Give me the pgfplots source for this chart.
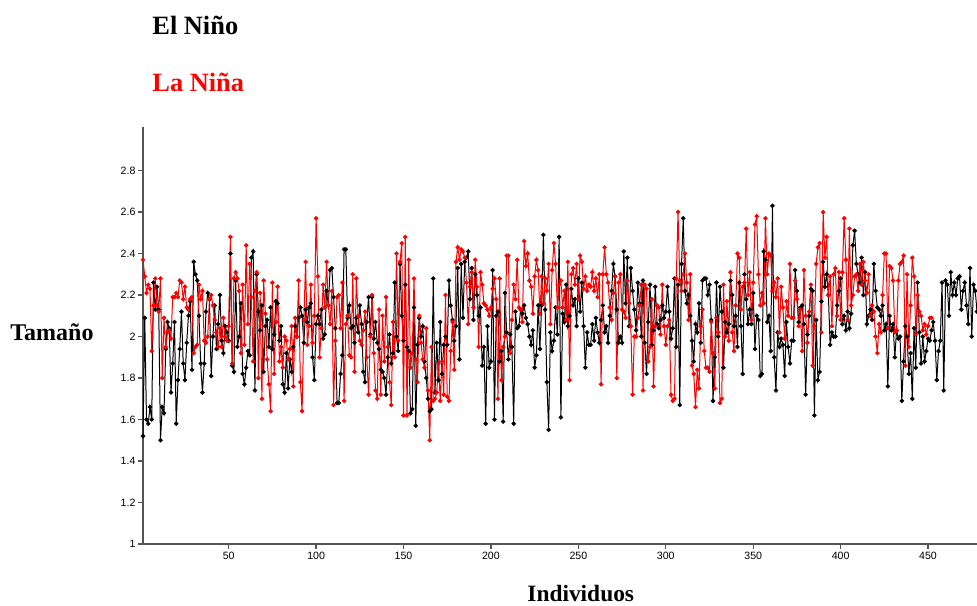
\documentclass[border=0pt]{standalone}
\usepackage{fontspec}
\setmainfont{Liberation Serif}
\newfontfamily\tickfont{Liberation Sans}
\usepackage{pgfplots}
\usepackage{pgfplotstable}
\pgfplotsset{compat=1.18}
\definecolor{axgray}{RGB}{85,85,85}

\pgfplotstableread[row sep=\\]{
y\\
1.52\\2.09\\1.60\\1.58\\1.66\\1.60\\2.26\\2.13\\2.24\\2.13\\1.50\\1.66\\1.63\\1.94\\2.07\\2.04\\1.73\\1.87\\2.07\\1.58\\1.79\\1.94\\2.12\\1.87\\1.79\\1.97\\2.10\\2.17\\1.84\\2.36\\2.30\\2.27\\2.10\\1.87\\1.73\\1.87\\2.12\\2.21\\2.18\\1.81\\2.00\\2.15\\1.94\\2.06\\2.20\\1.98\\1.92\\2.05\\2.02\\1.98\\
2.40\\1.86\\1.83\\2.27\\1.95\\2.00\\2.16\\1.82\\1.77\\1.85\\1.93\\1.91\\2.38\\2.41\\1.74\\2.30\\2.12\\2.03\\2.15\\1.83\\2.05\\2.08\\1.95\\2.14\\1.94\\2.01\\2.17\\2.16\\1.98\\2.05\\1.77\\1.73\\1.92\\1.75\\1.89\\1.83\\1.95\\2.05\\2.00\\2.09\\2.14\\2.10\\1.97\\2.13\\2.07\\2.14\\2.16\\1.90\\1.79\\2.06\\
2.10\\2.06\\2.13\\1.99\\2.01\\2.22\\2.15\\2.32\\2.33\\2.19\\2.04\\1.68\\1.68\\1.82\\1.91\\2.42\\2.42\\2.09\\2.15\\2.04\\2.05\\1.97\\2.09\\2.02\\2.15\\2.06\\1.83\\1.78\\2.07\\2.19\\2.01\\2.19\\1.99\\2.07\\1.97\\1.94\\1.84\\1.83\\1.80\\1.72\\1.90\\2.01\\1.87\\1.92\\2.26\\2.00\\1.93\\2.35\\2.10\\1.98\\
2.25\\1.95\\1.93\\1.63\\1.65\\2.14\\1.57\\1.96\\2.09\\2.00\\2.05\\1.88\\1.80\\1.70\\1.64\\1.65\\2.28\\1.73\\1.97\\1.79\\2.07\\1.82\\1.96\\2.00\\1.96\\2.27\\2.15\\2.08\\1.98\\2.05\\2.33\\1.89\\2.35\\2.09\\2.36\\2.38\\2.41\\2.18\\2.33\\2.08\\2.30\\2.20\\2.10\\2.14\\1.86\\1.95\\1.58\\2.05\\1.85\\1.88\\
2.32\\1.60\\2.10\\2.12\\1.88\\1.93\\1.59\\2.21\\2.02\\1.89\\2.01\\1.95\\1.58\\2.12\\2.04\\2.05\\2.13\\2.11\\2.15\\2.09\\2.06\\2.00\\1.96\\2.03\\1.85\\1.91\\2.15\\1.94\\2.15\\2.49\\2.13\\1.78\\1.55\\2.02\\1.93\\1.98\\2.14\\2.01\\2.48\\1.61\\2.11\\2.07\\2.25\\2.05\\2.10\\2.23\\2.15\\2.18\\2.05\\2.28\\
2.12\\2.26\\2.05\\1.85\\2.02\\1.96\\1.96\\2.06\\1.98\\2.09\\2.02\\1.97\\2.08\\2.15\\2.02\\2.05\\1.97\\2.10\\2.22\\2.35\\2.29\\2.13\\1.97\\2.00\\1.97\\2.41\\2.16\\2.38\\2.05\\2.33\\2.22\\2.13\\2.03\\2.26\\2.16\\2.00\\2.27\\1.97\\1.82\\2.07\\2.25\\1.96\\2.03\\2.24\\2.06\\2.04\\2.08\\2.15\\2.09\\2.12\\
2.24\\2.12\\1.99\\2.04\\2.28\\1.95\\2.25\\1.67\\2.35\\2.57\\2.22\\2.16\\2.20\\2.10\\1.98\\1.88\\2.06\\2.02\\2.16\\1.97\\2.27\\2.28\\2.28\\2.20\\2.25\\2.08\\1.69\\1.90\\2.26\\2.00\\2.24\\2.12\\1.85\\2.07\\2.02\\2.06\\2.27\\2.20\\2.05\\2.10\\1.95\\2.26\\2.05\\1.82\\2.30\\2.18\\2.06\\2.13\\2.06\\2.21\\
1.94\\2.10\\2.08\\1.81\\1.82\\2.41\\2.37\\2.07\\2.10\\1.93\\2.63\\1.90\\1.74\\2.02\\1.95\\1.99\\1.96\\1.81\\2.07\\1.95\\1.87\\1.98\\1.98\\2.32\\2.22\\2.07\\2.14\\2.15\\2.06\\1.72\\2.01\\2.10\\2.23\\2.22\\1.62\\2.08\\1.79\\1.83\\2.17\\2.36\\2.24\\2.30\\2.20\\1.96\\2.02\\2.00\\2.00\\2.15\\2.22\\2.28\\
2.06\\2.10\\2.03\\2.12\\2.04\\2.11\\2.44\\2.51\\2.35\\2.30\\2.26\\2.38\\2.20\\2.31\\2.06\\2.10\\2.13\\2.08\\2.35\\2.22\\2.14\\2.13\\2.10\\2.15\\2.03\\2.06\\1.76\\2.10\\2.03\\2.06\\1.90\\2.03\\1.99\\2.00\\1.69\\1.88\\2.05\\2.00\\1.82\\1.92\\1.70\\2.04\\1.85\\2.26\\2.02\\1.87\\2.00\\1.88\\1.93\\1.99\\
1.98\\2.03\\2.07\\1.98\\1.79\\1.93\\1.98\\2.26\\1.74\\2.27\\2.25\\2.10\\2.31\\2.20\\2.26\\2.20\\2.28\\2.29\\2.13\\2.22\\2.26\\2.15\\2.06\\2.33\\2.00\\2.25\\2.22\\2.12\\
}\nino

\pgfplotstableread[row sep=\\]{
y\\
2.37\\2.29\\2.21\\2.25\\2.23\\1.93\\2.15\\2.28\\2.15\\2.12\\2.28\\1.80\\2.09\\1.95\\2.02\\2.03\\1.99\\2.19\\2.19\\2.21\\2.19\\2.27\\2.26\\2.18\\2.24\\2.14\\2.13\\2.18\\2.19\\1.92\\1.95\\1.96\\2.25\\2.18\\2.22\\1.98\\1.97\\2.00\\2.18\\2.20\\2.15\\2.08\\2.02\\1.95\\2.04\\1.95\\2.09\\2.00\\1.98\\2.05\\
2.48\\1.87\\2.28\\2.31\\2.28\\2.22\\1.92\\2.25\\1.96\\2.44\\2.06\\2.35\\2.19\\1.88\\2.22\\2.31\\1.80\\2.21\\1.70\\2.27\\2.11\\1.89\\1.77\\1.64\\2.26\\1.82\\2.07\\2.24\\1.88\\1.95\\1.85\\2.00\\1.98\\1.89\\1.94\\2.05\\1.76\\2.09\\2.00\\2.27\\1.78\\1.64\\2.08\\2.36\\1.96\\2.05\\2.25\\1.97\\2.10\\2.57\\
2.29\\1.90\\2.04\\2.25\\2.14\\2.36\\2.15\\2.06\\2.22\\1.67\\1.98\\2.19\\2.20\\2.04\\2.26\\1.69\\2.06\\2.10\\1.91\\1.90\\2.30\\1.83\\2.28\\2.10\\1.98\\1.96\\2.03\\2.12\\1.90\\1.72\\2.00\\2.20\\1.92\\1.74\\1.70\\2.13\\1.72\\2.10\\1.88\\2.19\\1.95\\1.78\\1.67\\2.07\\1.90\\2.40\\1.98\\2.36\\2.45\\1.62\\
2.48\\1.62\\2.37\\1.85\\1.92\\2.28\\1.89\\1.78\\2.10\\1.97\\1.89\\1.85\\2.04\\1.74\\1.50\\1.95\\1.69\\1.70\\1.73\\1.87\\1.69\\1.88\\1.72\\2.20\\1.71\\1.69\\1.93\\2.07\\1.84\\2.36\\2.43\\2.37\\2.42\\2.41\\2.38\\2.26\\2.06\\2.24\\2.31\\2.14\\2.37\\2.24\\1.95\\2.31\\2.25\\2.16\\2.15\\2.13\\2.10\\2.14\\
2.23\\2.28\\2.18\\1.70\\2.28\\1.79\\1.95\\2.00\\2.39\\2.39\\1.92\\2.08\\2.25\\2.18\\2.37\\2.14\\2.13\\2.07\\2.46\\2.34\\2.40\\2.27\\2.24\\2.11\\2.29\\2.37\\2.32\\2.11\\2.29\\2.16\\2.28\\2.22\\2.35\\2.06\\2.32\\2.45\\2.35\\2.14\\2.25\\2.27\\2.14\\2.22\\2.08\\2.36\\1.79\\2.30\\2.33\\2.25\\2.35\\2.18\\
2.39\\2.36\\2.23\\2.29\\2.22\\2.25\\2.24\\2.31\\2.22\\2.28\\2.19\\2.30\\1.77\\2.30\\2.43\\2.30\\2.26\\2.14\\2.08\\2.21\\2.29\\1.80\\2.26\\2.30\\2.13\\2.12\\2.09\\2.27\\2.16\\2.05\\1.72\\2.00\\2.00\\2.09\\2.15\\2.25\\1.74\\2.25\\2.23\\1.88\\1.95\\2.18\\1.76\\2.05\\2.15\\2.14\\2.01\\2.25\\2.05\\1.96\\
2.05\\2.08\\1.72\\1.69\\1.70\\2.28\\2.60\\2.27\\2.22\\2.30\\2.40\\2.26\\2.08\\2.30\\1.86\\1.82\\1.66\\1.84\\1.75\\2.05\\2.13\\1.93\\1.85\\1.85\\1.83\\2.07\\1.92\\1.75\\2.09\\2.02\\1.68\\1.70\\2.25\\2.00\\2.17\\1.98\\2.31\\2.02\\1.93\\2.15\\2.40\\2.38\\2.13\\2.24\\2.26\\2.52\\2.20\\2.31\\2.08\\2.26\\
2.54\\2.58\\2.30\\2.15\\2.21\\2.16\\2.57\\2.30\\2.40\\2.39\\2.22\\2.26\\2.19\\2.28\\2.02\\2.24\\2.14\\1.99\\2.17\\2.10\\2.35\\2.09\\2.09\\2.27\\2.18\\2.05\\2.13\\1.93\\2.32\\2.10\\1.97\\2.12\\2.25\\1.86\\2.05\\2.35\\2.43\\2.45\\2.02\\2.60\\2.38\\2.48\\2.20\\2.29\\2.05\\2.30\\2.33\\2.10\\2.31\\2.08\\
2.31\\2.57\\2.37\\2.08\\2.52\\2.15\\2.20\\2.29\\2.30\\2.22\\2.35\\2.25\\2.36\\2.27\\2.21\\2.30\\2.10\\2.15\\2.12\\2.00\\1.92\\2.06\\2.02\\2.20\\2.40\\2.40\\2.04\\2.34\\2.33\\2.27\\2.02\\2.03\\2.27\\2.35\\2.36\\2.39\\1.86\\2.30\\1.95\\2.15\\2.38\\2.29\\2.01\\2.20\\2.12\\2.10\\2.03\\2.06\\2.01\\2.05\\2.09\\2.09\\
}\nina

\begin{document}
\begin{tikzpicture}
\path[use as bounding box] (-71.5pt,-30.5pt) rectangle (417pt,272pt);
\begin{axis}[
  at={(0,0)}, anchor=south west,
  scale only axis,
  width=417pt, height=208.5pt,
  xmin=1, xmax=478,
  ymin=1, ymax=3.01,
  axis x line*=bottom,
  axis y line*=left,
  axis line style={axgray, line width=0.7pt},
  every tick/.style={axgray, line width=0.6pt},
  tick align=outside,
  major tick length=2.4pt,
  xtick={50,100,150,200,250,300,350,400,450},
  ytick={1,1.2,1.4,1.6,1.8,2,2.2,2.4,2.6,2.8},
  /pgf/number format/assume math mode=true,
  ticklabel style={font=\tickfont\fontsize{5.3}{6}\selectfont, inner sep=1.2pt},
  clip=false,
]
\addplot[black, line width=0.5pt, mark=*, mark size=0.85pt]
  table[x expr=\coordindex+1, y=y] {\nino};
\addplot[red, line width=0.5pt, mark=*, mark size=0.85pt]
  table[x expr=\coordindex+1, y=y] {\nina};
\end{axis}
\node[anchor=base west, inner sep=0pt, font=\bfseries\fontsize{13.2}{15}\selectfont] at (4.5pt,254.5pt) {El Niño};
\node[anchor=base west, inner sep=0pt, text=red, font=\bfseries\fontsize{13.2}{15}\selectfont] at (4.5pt,226.2pt) {La Niña};
\node[anchor=base west, inner sep=0pt, font=\bfseries\fontsize{12}{14}\selectfont] at (-66.5pt,102pt) {Tamaño};
\node[anchor=base west, inner sep=0pt, font=\bfseries\fontsize{11.7}{14}\selectfont] at (192pt,-28.5pt) {Individuos};
\end{tikzpicture}
\end{document}
